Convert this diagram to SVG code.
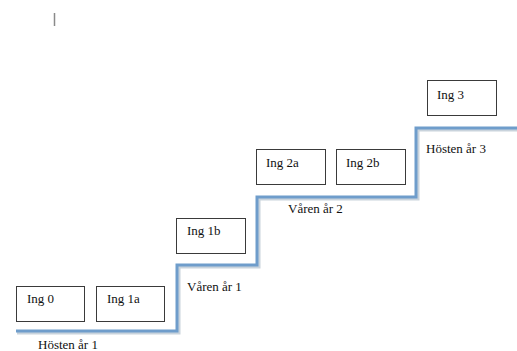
<svg xmlns="http://www.w3.org/2000/svg" width="517" height="351" viewBox="0 0 517 351">
<style>
.box{fill:#fff;stroke:#3a3a3a;stroke-width:1}
.t{font-family:"Liberation Serif","Times New Roman",serif;font-size:13px;fill:#111}
.step{fill:none;stroke:#6f9dcb;stroke-width:3;stroke-linejoin:miter}
.shadow{fill:none;stroke:#c9d3dc;stroke-width:3}
</style>
<rect width="517" height="351" fill="#fff"/>
<line x1="54.5" y1="13" x2="54.5" y2="26" stroke="#8a8a8a" stroke-width="1.5"/>
<g id="connectors">
<path class="shadow" d="M17,333 H179 V267 H259 V199 H418 V130 H517"/>
<path class="step" d="M16,331 H177 V265 H257 V197 H416 V128 H517"/>
</g>
<g id="ing0"><rect class="box" x="16.5" y="286.5" width="68" height="35"/><text class="t" x="27" y="303">Ing 0</text></g>
<g id="ing1a"><rect class="box" x="96.5" y="286.5" width="68" height="35"/><text class="t" x="107" y="303">Ing 1a</text></g>
<g id="ing1b"><rect class="box" x="176.5" y="218.5" width="69" height="35"/><text class="t" x="187" y="235">Ing 1b</text></g>
<g id="ing2a"><rect class="box" x="256.5" y="149.5" width="69" height="35"/><text class="t" x="266" y="167">Ing 2a</text></g>
<g id="ing2b"><rect class="box" x="336.5" y="149.5" width="69" height="35"/><text class="t" x="346" y="167">Ing 2b</text></g>
<g id="ing3"><rect class="box" x="427.5" y="80.5" width="69" height="35"/><text class="t" x="437" y="99">Ing 3</text></g>
<g id="labels">
<text class="t" x="38" y="349">Hösten år 1</text>
<text class="t" x="187" y="291">Våren år 1</text>
<text class="t" x="288" y="213">Våren år 2</text>
<text class="t" x="426" y="153">Hösten år 3</text>
</g>
</svg>
